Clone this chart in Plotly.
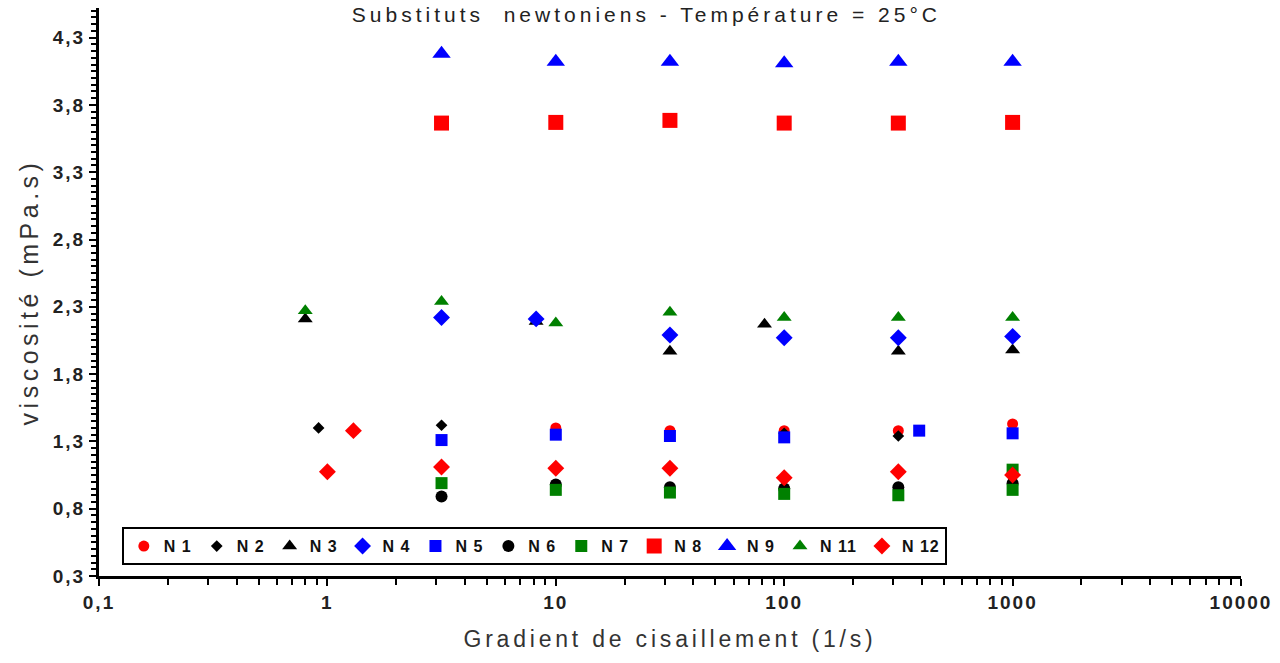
import plotly.graph_objects as go

# ---- data ----
n1_x = [10, 31.6, 100, 316, 1000]
n1_y = [1.40, 1.38, 1.38, 1.38, 1.43]

n2_x = [0.915, 3.16, 100, 316]
n2_y = [1.40, 1.42, 1.36, 1.34]

n3_x = [0.8, 8.2, 31.6, 82, 316, 1000]
n3_y = [2.21, 2.19, 1.97, 2.17, 1.97, 1.98]

n4_x = [3.16, 8.2, 31.6, 100, 316, 1000]
n4_y = [2.22, 2.21, 2.09, 2.07, 2.07, 2.08]

n5_x = [3.16, 10, 31.6, 100, 390, 1000]
n5_y = [1.31, 1.35, 1.34, 1.33, 1.38, 1.36]

n6_x = [3.16, 10, 31.6, 100, 316, 1000]
n6_y = [0.89, 0.98, 0.96, 0.95, 0.96, 0.99]

n7_x = [3.16, 10, 31.6, 100, 316, 1000, 1000]
n7_y = [0.99, 0.94, 0.92, 0.91, 0.90, 0.94, 1.09]

n8_x = [3.16, 10, 31.6, 100, 316, 1000]
n8_y = [3.665, 3.67, 3.685, 3.665, 3.665, 3.67]

n9_x = [3.16, 10, 31.6, 100, 316, 1000]
n9_y = [4.18, 4.12, 4.12, 4.11, 4.12, 4.12]

n11_x = [0.8, 3.16, 10, 31.6, 100, 316, 1000]
n11_y = [2.27, 2.34, 2.18, 2.26, 2.22, 2.22, 2.22]

n12_x = [1.0, 1.3, 3.16, 10, 31.6, 100, 316, 1000]
n12_y = [1.075, 1.38, 1.11, 1.10, 1.10, 1.03, 1.075, 1.05]

x_tickvals = [0.1, 1, 10, 100, 1000, 10000]
x_ticktext = ["0,1", "1", "10", "100", "1000", "10000"]
y_tickvals = [0.3, 0.8, 1.3, 1.8, 2.3, 2.8, 3.3, 3.8, 4.3]
y_ticktext = ["0,3", "0,8", "1,3", "1,8", "2,3", "2,8", "3,3", "3,8", "4,3"]

series = [
    ("N 1", n1_x, n1_y, "circle", "#FF0000", 11),
    ("N 2", n2_x, n2_y, "diamond", "#000000", 9),
    ("N 3", n3_x, n3_y, "triangle-up", "#000000", 13),
    ("N 4", n4_x, n4_y, "diamond", "#0000FF", 13),
    ("N 5", n5_x, n5_y, "square", "#0000FF", 12),
    ("N 6", n6_x, n6_y, "circle", "#000000", 12),
    ("N 7", n7_x, n7_y, "square", "#008000", 12),
    ("N 8", n8_x, n8_y, "square", "#FF0000", 15),
    ("N 9", n9_x, n9_y, "triangle-up", "#0000FF", 16),
    ("N 11", n11_x, n11_y, "triangle-up", "#008000", 13),
    ("N 12", n12_x, n12_y, "diamond", "#FF0000", 13),
]


def spaced(t, px):
    return '<span style="letter-spacing:%spx">%s</span>' % (px, t)


fig = go.Figure()
for name, xs, ys, sym, col, sz in series:
    fig.add_trace(go.Scatter(
        x=xs, y=ys, mode="markers", name=spaced(name, 1),
        marker=dict(symbol=sym, color=col, size=sz, line=dict(width=0)),
    ))

font_main = "Liberation Sans, Arial, sans-serif"

# minor tick positions
x_minor = [m * 10 ** e for e in range(-1, 4) for m in range(2, 10)]
y_minor = [round(0.3 + 0.05 * i, 3) for i in range(0, 85)]

fig.update_layout(
    width=1280, height=663,
    paper_bgcolor="white", plot_bgcolor="white",
    margin=dict(l=99, r=37, t=8, b=87),
    title=dict(
        text=spaced("Substituts  newtoniens - Température = 25°C", 4),
        x=0.505, xanchor="center", y=1 - 15 / 663, yanchor="middle",
        font=dict(family=font_main, size=21, color="#222222"),
    ),
    showlegend=True,
    legend=dict(
        orientation="h", x=0.02, xanchor="left", y=0.086, yanchor="top",
        bgcolor="white", bordercolor="black", borderwidth=2,
        font=dict(family=font_main, size=16, color="#111111", weight="bold"),
        itemsizing="trace", itemwidth=30, tracegroupgap=0,
    ),
    xaxis=dict(
        type="log", range=[-1, 4],
        tickvals=x_tickvals, ticktext=[spaced(t, 2) for t in x_ticktext],
        ticks="outside", ticklen=7, tickwidth=2, tickcolor="black",
        showline=True, linecolor="black", linewidth=3,
        showgrid=False, zeroline=False,
        tickfont=dict(family=font_main, size=19, color="#222222", weight="bold"),
        minor=dict(ticks="outside", ticklen=6, tickwidth=2, tickcolor="black",
                   tickmode="array", tickvals=x_minor, showgrid=False),
        title=dict(text=spaced("Gradient de cisaillement (1/s)", 3.8), standoff=20,
                   font=dict(family=font_main, size=23, color="#333333")),
    ),
    yaxis=dict(
        range=[0.3, 4.52],
        tickvals=y_tickvals, ticktext=[spaced(t, 2) for t in y_ticktext],
        ticks="outside", ticklen=7, tickwidth=2, tickcolor="black",
        showline=True, linecolor="black", linewidth=3,
        showgrid=False, zeroline=False,
        tickfont=dict(family=font_main, size=19, color="#222222", weight="bold"),
        minor=dict(ticks="outside", ticklen=5, tickwidth=1.5, tickcolor="black",
                   tickmode="array", tickvals=y_minor, showgrid=False),
        title=dict(text=spaced("viscosité (mPa.s)", 4.5), standoff=8,
                   font=dict(family=font_main, size=25, color="#333333")),
    ),
)

fig.write_html("out.html")
